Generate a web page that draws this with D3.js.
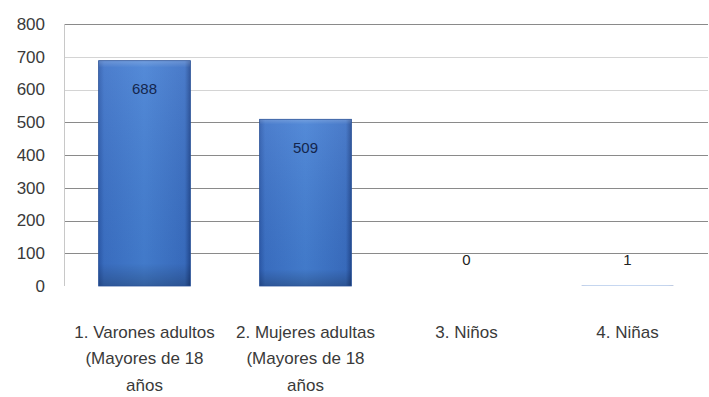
<!DOCTYPE html>
<html><head><meta charset="utf-8">
<script src="https://cdn.jsdelivr.net/npm/d3@7"></script>
<style>body{margin:0;background:#fff}svg{display:block}</style>
</head><body>
<svg id="c" width="709" height="397"></svg>
<script>
const categories = ["1. Varones adultos (Mayores de 18 años", "2. Mujeres adultas (Mayores de 18 años", "3. Niños", "4. Niñas"];
const values = [688, 509, 0, 1];
const yTicks = [0, 100, 200, 300, 400, 500, 600, 700, 800];

(function () {
const svg = d3.select("#c");
const pL = 64, pR = 708, pT = 24, pB = 286;
const x = d3.scaleBand().domain(categories).range([pL, pR]).paddingInner(0.43).paddingOuter(0.215);
const y = d3.scaleLinear().domain([0, 800]).range([pB, pT]);

const defs = svg.append("defs");
const gh = defs.append("linearGradient").attr("id", "gh").attr("x1", 0).attr("x2", 1).attr("y1", 0).attr("y2", 0);
gh.append("stop").attr("offset", "0").attr("stop-color", "#2d5cae");
gh.append("stop").attr("offset", "0.06").attr("stop-color", "#3c72c8");
gh.append("stop").attr("offset", "0.5").attr("stop-color", "#4580d4");
gh.append("stop").attr("offset", "0.94").attr("stop-color", "#3a6fc4");
gh.append("stop").attr("offset", "1").attr("stop-color", "#234b94");
const gv = defs.append("linearGradient").attr("id", "gv").attr("x1", 0).attr("x2", 0).attr("y1", 0).attr("y2", 1);
gv.append("stop").attr("offset", "0").attr("stop-color", "#ffffff").attr("stop-opacity", 0.25);
gv.append("stop").attr("offset", "0.03").attr("stop-color", "#ffffff").attr("stop-opacity", 0.08);
gv.append("stop").attr("offset", "0.9").attr("stop-color", "#000000").attr("stop-opacity", 0.05);
gv.append("stop").attr("offset", "1").attr("stop-color", "#000000").attr("stop-opacity", 0.25);

// gridlines
svg.append("g").selectAll("line").data(yTicks.filter(d => d > 0)).join("line")
  .attr("x1", pL).attr("x2", pR)
  .attr("y1", d => Math.round(y(d)) + 0.5).attr("y2", d => Math.round(y(d)) + 0.5)
  .attr("stroke", d => (d === 600 || d === 700) ? "#d4d4d4" : "#8a8a8a").attr("stroke-width", 1);

// vertical axis line
svg.append("line").attr("x1", pL + 0.5).attr("x2", pL + 0.5).attr("y1", y(800)).attr("y2", y(0))
  .attr("stroke", "#c8c8c8");

// y axis labels
const yAxis = d3.axisLeft(y).tickValues(yTicks).tickSize(0).tickPadding(0);
const ya = svg.append("g").attr("transform", "translate(45,0)").call(yAxis);
ya.select(".domain").remove();
ya.selectAll("text").attr("font-family", "Liberation Sans, Arial, sans-serif").attr("font-size", 17).attr("fill", "#3a3a3a");

// bars
const bars = svg.append("g").selectAll("g").data(values.map((v, i) => ({v, c: categories[i]}))).join("g");
bars.append("rect").attr("x", d => x(d.c)).attr("width", x.bandwidth())
  .attr("y", d => y(d.v)).attr("height", d => y(0) - y(d.v)).attr("fill", "url(#gh)");
bars.append("rect").attr("x", d => x(d.c)).attr("width", x.bandwidth())
  .attr("y", d => y(d.v)).attr("height", d => y(0) - y(d.v)).attr("fill", "url(#gv)")
  .attr("stroke", "#2a5298").attr("stroke-width", d => d.v > 5 ? 0.8 : 0);

// value labels
bars.append("text").attr("x", d => x(d.c) + x.bandwidth() / 2)
  .attr("y", d => (y(0) - y(d.v)) > 40 ? y(d.v) + 28 : y(0) - 26)
  .attr("dy", "0.35em").attr("text-anchor", "middle")
  .attr("font-family", "Liberation Sans Narrow, Liberation Sans, sans-serif").attr("font-size", 15)
  .attr("fill", d => (y(0) - y(d.v)) > 40 ? "#14264d" : "#222")
  .text(d => d.v);

// x axis labels
const xAxis = d3.axisBottom(x).tickSize(0).tickPadding(0);
const xa = svg.append("g").attr("transform", `translate(0,${y(0)})`).call(xAxis);
xa.select(".domain").remove();
xa.selectAll("text").attr("font-family", "Liberation Sans, Arial, sans-serif").attr("font-size", 17).attr("fill", "#3a3a3a")
  .each(function(d) {
    const t = d3.select(this);
    const words = d.split(" ");
    t.text(null).attr("y", 0).attr("dy", null);
    let line = [], lines = [];
    const tmp = t.append("tspan");
    words.forEach(w => {
      line.push(w);
      tmp.text(line.join(" "));
      if (tmp.node().getComputedTextLength() > 152 && line.length > 1) {
        line.pop(); lines.push(line.join(" ")); line = [w];
      }
    });
    lines.push(line.join(" "));
    tmp.remove();
    lines.forEach((l, i) => {
      t.append("tspan").attr("x", 0).attr("y", 46 + i * 26.5).attr("dy", "0.35em").text(l);
    });
  });
})();
</script>
</body></html>
